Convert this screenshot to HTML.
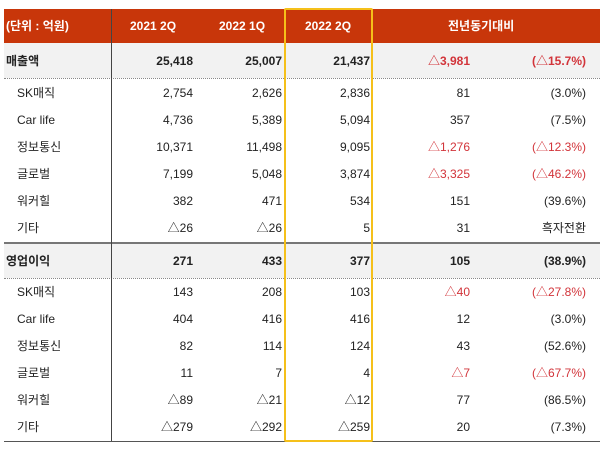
<!DOCTYPE html>
<html><head><meta charset="utf-8"><style>
body{margin:0;width:600px;height:457px;background:#fff;position:relative;overflow:hidden;font-family:"Liberation Sans","Noto Sans CJK KR",sans-serif;font-size:12px;color:#222}
.hdr{position:absolute;left:4px;top:9px;width:596px;height:34px;background:#c8360a}
.t{position:absolute;white-space:nowrap;line-height:14px}
.w{color:#fff;font-weight:bold}
.r{text-align:right}
.red{color:#d2343a}
.b{font-weight:bold}
.gray{position:absolute;left:4px;width:596px;height:35px;background:#f2f2f2}
.dot{position:absolute;left:4px;width:596px;border-top:1px dotted #888}
</style></head><body>
<div class="hdr"></div>
<div class="gray" style="top:43px"></div>
<div class="gray" style="top:243px"></div>
<div class="dot" style="top:78px"></div>
<div class="dot" style="top:278px"></div>
<div style="position:absolute;left:4px;top:242px;width:596px;border-top:2px solid #777"></div>
<div style="position:absolute;left:4px;top:441px;width:596px;border-top:1px solid #555"></div>
<div style="position:absolute;left:111px;top:9px;height:432px;border-left:1px solid #444"></div>
<div style="position:absolute;left:284px;top:8px;width:85px;height:430px;border:2px solid #f5c01a;border-radius:2px"></div>
<div class="t w" style="left:6px;top:19px">(단위 : 억원)</div>
<div class="t w" style="left:130px;top:19px">2021 2Q</div>
<div class="t w" style="left:219px;top:19px">2022 1Q</div>
<div class="t w" style="left:305px;top:19px">2022 2Q</div>
<div class="t w" style="left:448px;top:19px">전년동기대비</div>
<div id="rows"></div>
<script>
var d=[["매출액","25,418","25,007","21,437","△3,981","(△15.7%)",1,1,61],
["SK매직","2,754","2,626","2,836","81","(3.0%)",0,0,93],
["Car life","4,736","5,389","5,094","357","(7.5%)",0,0,120],
["정보통신","10,371","11,498","9,095","△1,276","(△12.3%)",0,1,147],
["글로벌","7,199","5,048","3,874","△3,325","(△46.2%)",0,1,174],
["워커힐","382","471","534","151","(39.6%)",0,0,201],
["기타","△26","△26","5","31","흑자전환",0,0,228],
["영업이익","271","433","377","105","(38.9%)",1,0,261],
["SK매직","143","208","103","△40","(△27.8%)",0,1,292],
["Car life","404","416","416","12","(3.0%)",0,0,319],
["정보통신","82","114","124","43","(52.6%)",0,0,346],
["글로벌","11","7","4","△7","(△67.7%)",0,1,373],
["워커힐","△89","△21","△12","77","(86.5%)",0,0,400],
["기타","△279","△292","△259","20","(7.3%)",0,0,427]];
var h="";var R=[193,282,370,470,586];
d.forEach(function(r){var y=r[8]-7,b=r[6]?" b":"",c=r[7]?" red":"";
h+='<div class="t'+b+'" style="left:'+(r[6]?6:17)+'px;top:'+y+'px">'+r[0]+'</div>';
for(var i=0;i<5;i++){h+='<div class="t r'+b+(i>=3?c:"")+'" style="right:'+(600-R[i])+'px;top:'+y+'px">'+r[i+1]+'</div>';}});
document.getElementById("rows").innerHTML=h;
</script>
</body></html>
